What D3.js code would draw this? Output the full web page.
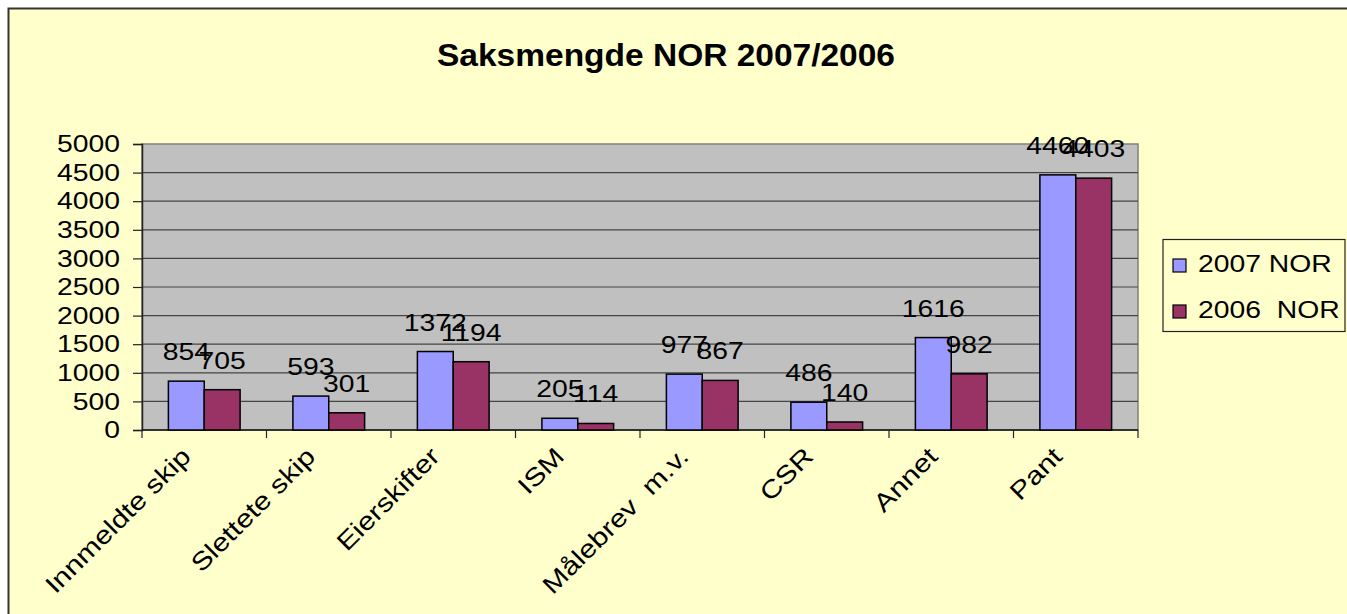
<!DOCTYPE html>
<html>
<head>
<meta charset="utf-8">
<script src="https://cdn.jsdelivr.net/npm/d3@7"></script>
<style>
html,body{margin:0;padding:0;background:#fff;}
svg{display:block;}
text{font-family:"Liberation Sans",Arial,sans-serif;fill:#000;}
</style>
</head>
<body>
<svg id="chart" width="1347" height="614"></svg>
<script>
const categories = ["Innmeldte skip","Slettete skip","Eierskifter","ISM","Målebrev  m.v.","CSR","Annet","Pant"];
const values2007 = [854, 593, 1372, 205, 977, 486, 1616, 4460];
const values2006 = [705, 301, 1194, 114, 867, 140, 982, 4403];
const seriesNames = ["2007 NOR", "2006  NOR"];
const yTicks = [0,500,1000,1500,2000,2500,3000,3500,4000,4500,5000];
const titleText = "Saksmengde NOR 2007/2006";

const colors = ["#9999FF", "#993366"];
const STRETCH = 1.18;

const svg = d3.select("#chart");
function stretch(sel, f){
  sel.each(function(){
    const L = this.getComputedTextLength();
    d3.select(this).attr("textLength", L*(f||STRETCH)).attr("lengthAdjust","spacingAndGlyphs");
  });
}

// chart area
svg.append("rect").attr("x",8.5).attr("y",8.5).attr("width",1400).attr("height",700)
  .attr("fill","#FFFFCC").attr("stroke","#333").attr("stroke-width",2);

const plot = {left:142, right:1138, top:144, bottom:430};
const x = d3.scaleBand().domain(categories).range([plot.left, plot.right]).paddingInner(0).paddingOuter(0);
const y = d3.scaleLinear().domain([0,5000]).range([plot.bottom, plot.top]);
const groupW = x.bandwidth()*0.576;
const x1 = d3.scaleBand().domain([0,1]).range([0, groupW]);

// plot bg
svg.append("rect").attr("x",plot.left).attr("y",plot.top).attr("width",plot.right-plot.left).attr("height",plot.bottom-plot.top)
  .attr("fill","#C0C0C0").attr("stroke","#808080").attr("stroke-width",1.5);

// gridlines
svg.append("g").selectAll("line").data(yTicks.filter(d=>d>0 && d<5000)).join("line")
  .attr("x1",plot.left).attr("x2",plot.right).attr("y1",d=>y(d)).attr("y2",d=>y(d))
  .attr("stroke","#444").attr("stroke-width",1.2);

// y axis
const yAxis = svg.append("g").attr("transform",`translate(${plot.left},0)`)
  .call(d3.axisLeft(y).tickValues(yTicks).tickSize(9).tickPadding(13).tickFormat(d3.format("d")));
yAxis.select(".domain").attr("stroke","#222").attr("stroke-width",1.5);
yAxis.selectAll(".tick line").attr("stroke","#222").attr("stroke-width",1.2);
yAxis.selectAll("text").attr("font-size",24).attr("font-family","Liberation Sans, Arial").attr("fill","#000");
stretch(yAxis.selectAll("text"));

// x axis
const xAxis = svg.append("g").attr("transform",`translate(0,${plot.bottom})`);
xAxis.append("line").attr("x1",plot.left).attr("x2",plot.right).attr("stroke","#111").attr("stroke-width",1.5);
const bounds = categories.map(c=>x(c)).concat([plot.right]);
xAxis.selectAll("line.tk").data(bounds).join("line").attr("class","tk")
  .attr("x1",d=>d).attr("x2",d=>d).attr("y1",0).attr("y2",8).attr("stroke","#222").attr("stroke-width",1.2);
const xl = xAxis.selectAll("text").data(categories).join("text")
  .attr("transform",d=>`translate(${x(d)+x.bandwidth()/2-12},28) rotate(-45)`)
  .attr("text-anchor","end").attr("font-size",25)
  .style("white-space","pre").text(d=>d);
stretch(xl, 1.2);

// bars
const data = categories.map((c,i)=>({c, v:[values2007[i], values2006[i]]}));
const off = (x.bandwidth()-groupW)/2;
const groups = svg.append("g").selectAll("g").data(data).join("g")
  .attr("transform",d=>`translate(${x(d.c)+off},0)`);
groups.selectAll("rect").data(d=>d.v.map((v,k)=>({v,k}))).join("rect")
  .attr("x",d=>x1(d.k)).attr("width",x1.bandwidth())
  .attr("y",d=>y(d.v)).attr("height",d=>plot.bottom-y(d.v))
  .attr("fill",d=>colors[d.k]).attr("stroke","#000").attr("stroke-width",1.5);
const lbl = groups.selectAll("text").data(d=>d.v.map((v,k)=>({v,k}))).join("text")
  .attr("x",d=>x1(d.k)+x1.bandwidth()/2).attr("y",d=>y(d.v)-21)
  .attr("text-anchor","middle").attr("font-size",24).text(d=>d.v);
stretch(lbl);

// title
const t = svg.append("text").attr("x",666).attr("y",66).attr("text-anchor","middle")
  .attr("font-size",32).attr("font-weight","bold").text(titleText);
t.attr("textLength",458).attr("lengthAdjust","spacingAndGlyphs");

// legend
const lg = svg.append("g");
lg.append("rect").attr("x",1163).attr("y",239.5).attr("width",182).attr("height",92)
  .attr("fill","#FFFFCC").attr("stroke","#222").attr("stroke-width",1.2);
const le = lg.selectAll("g").data(seriesNames).join("g")
  .attr("transform",(d,i)=>`translate(0,${i*46})`);
le.append("rect").attr("x",1173).attr("y",259).attr("width",13).attr("height",13)
  .attr("fill",(d,i)=>colors[i]).attr("stroke","#000").attr("stroke-width",1.2);
const lt = le.append("text").attr("x",1198).attr("y",272).attr("font-size",24)
  .style("white-space","pre").text(d=>d);
stretch(lt);
</script>
</body>
</html>
